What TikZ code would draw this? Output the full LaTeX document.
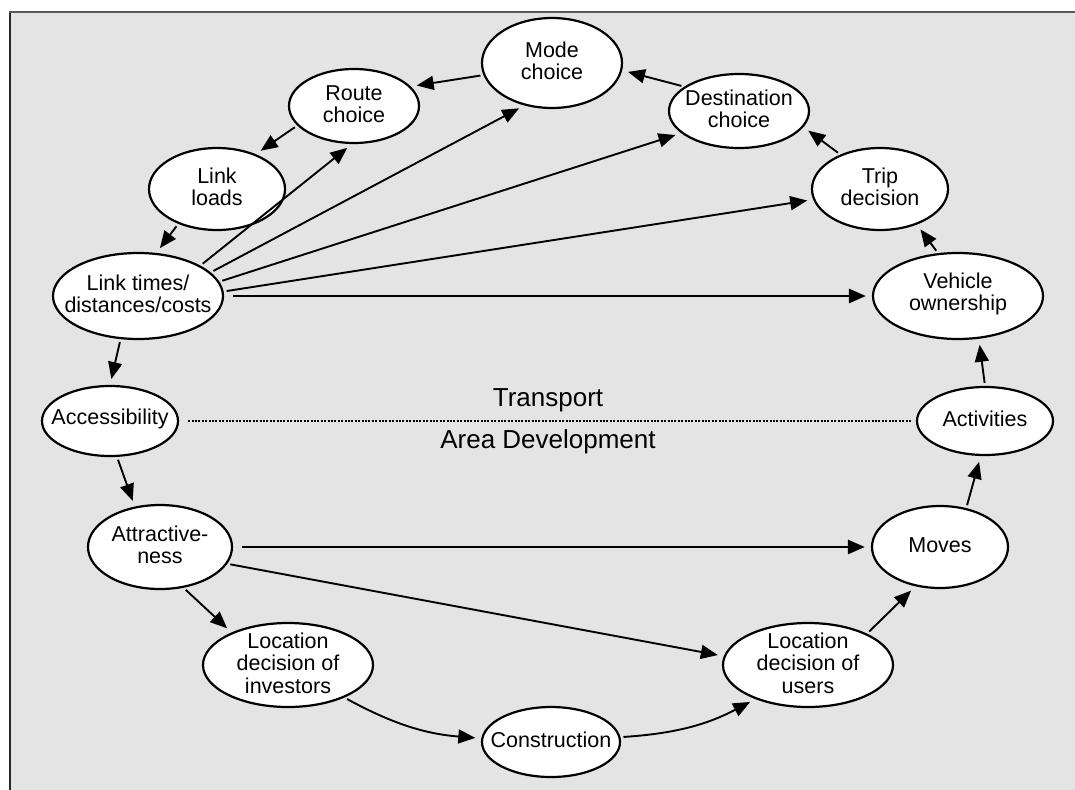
\documentclass[tikz,border=0pt]{standalone}
\usepackage{fontspec}
\setmainfont{Liberation Sans}
\usetikzlibrary{shapes.geometric,arrows.meta}
\definecolor{panel}{HTML}{E4E4E4}
\begin{document}
\begin{tikzpicture}[x=1pt,y=-1pt,
  bub/.style={ellipse, draw, line width=2.2pt, fill=white, inner sep=0pt},
  every label/.style={align=center, inner sep=0pt, yshift=2pt,
    font=\fontsize{21.5}{22.5}\selectfont},
  arr/.style={-{Triangle[length=17pt,width=14pt]}, line width=1.9pt,
    shorten <=3pt, shorten >=6pt},
  bigarr/.style={arr, line width=2.8pt, shorten <=9pt},
  caption/.style={font=\fontsize{26}{28}\selectfont, inner sep=0pt}]
\useasboundingbox (0,0) rectangle (1075,789);
% grey panel with its frame
\fill[panel] (9.5,12.5) rectangle (1076,790);
\draw[line width=2pt, black!85] (9.5,790) -- (9.5,12.5);
\draw[line width=2pt, black!65] (8.5,12.5) -- (1076,12.5);

% transport side
\node[bub, minimum width=140pt, minimum height=90pt, label=center:Mode\\choice] (mode) at (552,63) {};
\node[bub, minimum width=130pt, minimum height=74pt, label=center:Route\\choice] (route) at (354,106) {};
\node[bub, minimum width=136pt, minimum height=82pt, label=center:Link\\loads] (loads) at (217,189) {};
\node[bub, minimum width=170pt, minimum height=86pt, label=center:Link times/\\distances/costs] (lt) at (138,296) {};
\node[bub, minimum width=140pt, minimum height=74pt, label=center:Destination\\choice] (dest) at (739,111) {};
\node[bub, minimum width=136pt, minimum height=82pt, label=center:Trip\\decision] (trip) at (880,189) {};
\node[bub, minimum width=170pt, minimum height=86pt, label=center:Vehicle\\ownership] (veh) at (958,296) {};

% the divide
\node[bub, minimum width=136pt, minimum height=70pt, label=center:Accessibility] (acc) at (110,421) {};
\node[bub, minimum width=136pt, minimum height=68pt, label=center:Activities] (act) at (985,421) {};

% area development side
\node[bub, minimum width=144pt, minimum height=84pt, label=center:Attractive-\\ness] (attr) at (160,547) {};
\node[bub, minimum width=170pt, minimum height=84pt, label=center:Location\\decision of\\investors] (inv) at (288,665) {};
\node[bub, minimum width=138pt, minimum height=70pt, label=center:Construction] (cons) at (551,742) {};
\node[bub, minimum width=170pt, minimum height=84pt, label=center:Location\\decision of\\users] (users) at (808,665) {};
\node[bub, minimum width=136pt, minimum height=82pt, label=center:Moves] (moves) at (940,547) {};

% dividing line and its captions
\draw[line width=2pt, dash pattern=on 2pt off 1.4pt, shorten <=9pt, shorten >=5pt] (acc.east) -- (act.west);
\node[caption] (tr) at (548,400) {Transport};
\node[caption] (ad) at (548,442) {Area Development};

% cycle
\draw[arr] (dest.156) -- (mode.-6);
\draw[arr] (mode.190) -- (route.19);
\draw[arr] (route.199) -- (loads.42);
\draw[arr] (loads.222) -- (lt.67);
\draw[arr] (lt.248) -- (acc.90);
\draw[arr] (acc.281) -- (attr.122);
\draw[arr] (attr.300) -- (inv.150);
\draw[arr] (inv.330) to[bend right=12] (cons.177);
\draw[arr] (cons.4) to[bend right=12] (users.213);
\draw[arr] (users.28) -- (moves.238);
\draw[arr] (moves.56) -- (act.263);
\draw[arr] (act.90) -- (veh.296);
\draw[arr] (veh.115) -- (trip.316);
\draw[arr] (trip.139) -- (dest.346);

% fan from link times
\draw[arr] (lt.26) -- (route.267);
\draw[arr] (lt.18) -- (mode.237);
\draw[arr] (lt.10) -- (dest.201);
\draw[arr] (lt.3) -- (trip.189);
\draw[bigarr] (lt.east) -- (veh.west);

% from attractiveness
\draw[bigarr] (attr.east) -- (moves.west);
\draw[arr] (attr.346) -- (users.174);
\end{tikzpicture}
\end{document}
